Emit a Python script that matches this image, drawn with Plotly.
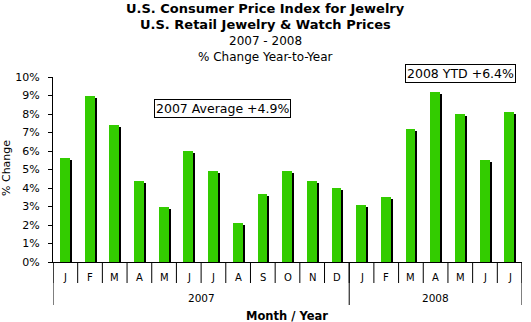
import plotly.graph_objects as go

months = ["J", "F", "M", "A", "M", "J", "J", "A", "S", "O", "N", "D",
          "J", "F", "M", "A", "M", "J", "J"]
years = ["2007", "2008"]
year_counts = [12, 7]
values = [5.6, 9.0, 7.4, 4.4, 3.0, 6.0, 4.9, 2.1, 3.7, 4.9, 4.4, 4.0,
          3.1, 3.5, 7.2, 9.2, 8.0, 5.5, 8.1]
y_ticks = [0, 1, 2, 3, 4, 5, 6, 7, 8, 9, 10]
y_tick_labels = [f"{t}%" for t in y_ticks]
note_2007 = "2007 Average +4.9%"
note_2008 = "2008 YTD +6.4%"

W, H = 531, 322
L, R, T, B = 53, 9, 77, 60
PW, PH = W - L - R, H - T - B
FONT = "Verdana, DejaVu Sans, sans-serif"

def px(xp):
    return (xp - L) / PW

def py(yp):
    return (H - B - yp) / PH

n = len(values)
xs = list(range(n))
unit = PW / n  # px per category
shadow_dx = 2.0 / unit
shadow_dy = 2.0 * 10 / PH

fig = go.Figure()
fig.add_trace(go.Bar(x=[x + shadow_dx for x in xs], y=[v - shadow_dy for v in values],
                     width=0.4, offset=-0.215, marker_color="black",
                     marker_line_width=0, hoverinfo="skip", showlegend=False))
fig.add_trace(go.Bar(x=xs, y=values, width=0.4, offset=-0.215,
                     marker_color="#33cc00", marker_line_width=0,
                     showlegend=False))

shapes = []
for k in range(n + 1):
    shapes.append(dict(type="line", xref="x", yref="paper", x0=k - 0.5, x1=k - 0.5,
                       y0=py(262), y1=py(283), line=dict(color="black", width=1)))
edges = [0]
for c in year_counts:
    edges.append(edges[-1] + c)
for e in edges:
    shapes.append(dict(type="line", xref="x", yref="paper", x0=e - 0.5, x1=e - 0.5,
                       y0=py(262), y1=py(305), line=dict(color="black", width=1)))

def txt(x, y, text, size, xref="paper", **kw):
    d = dict(x=x, y=y, xref=xref, yref="paper", text=text, showarrow=False,
             xanchor="center", yanchor="middle",
             font=dict(size=size, color="black", family=FONT))
    d.update(kw)
    return d

ann = []
for i, m in enumerate(months):
    ann.append(txt(i, py(277), m, 10, xref="x"))
for yname, a, b in zip(years, edges[:-1], edges[1:]):
    ann.append(txt((a + b - 1) / 2, py(298), yname, 10.5, xref="x"))
ann.append(txt(px(287), py(316), "<b>Month / Year</b>", 11.5))
ann.append(txt(px(6), py(168), "% Change", 11, textangle=-90))
titles = [("<b>U.S. Consumer Price Index for Jewelry</b>", 8, 13),
          ("<b>U.S. Retail Jewelry &amp; Watch Prices</b>", 24, 13),
          ("2007 - 2008", 41, 12),
          ("% Change Year-to-Year", 57, 12)]
for t, yc, sz in titles:
    ann.append(txt(px(W / 2), py(yc), t, sz))

ann.append(txt(px(222), py(108), note_2007, 12.5, bordercolor="black", borderwidth=1,
               borderpad=1, bgcolor="white"))
ann.append(txt(px(460), py(73.5), note_2008, 12.5, bordercolor="black", borderwidth=1,
               borderpad=1, bgcolor="white"))

fig.update_layout(
    width=W, height=H, margin=dict(l=L, r=R, t=T, b=B),
    paper_bgcolor="white", plot_bgcolor="white",
    barmode="overlay", bargap=0,
    shapes=shapes, annotations=ann,
    xaxis=dict(range=[-0.5, n - 0.5], showticklabels=False, ticks="", showgrid=False,
               zeroline=False, showline=True, linecolor="black", linewidth=1, fixedrange=True),
    yaxis=dict(range=[0, 10], tickvals=y_ticks, ticktext=y_tick_labels, ticks="outside",
               ticklen=4, tickcolor="black", showgrid=False, zeroline=False, showline=True,
               linecolor="black", linewidth=1, tickfont=dict(size=11, color="black", family=FONT),
               ticklabelstandoff=6),
    font=dict(family=FONT, color="black"),
    showlegend=False,
)

fig.write_html("out.html")
